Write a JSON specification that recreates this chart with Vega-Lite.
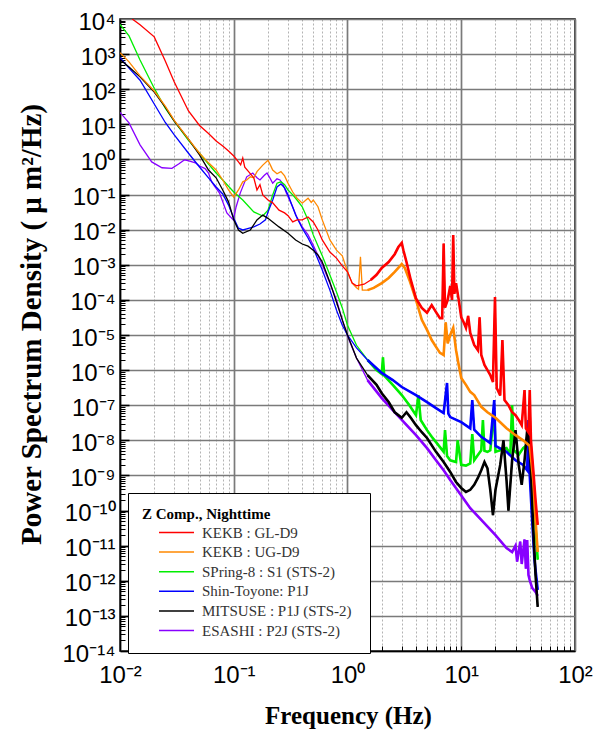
{
"$schema": "https://vega.github.io/schema/vega-lite/v6.json",
"width": 455, "height": 632,
"autosize": {"type": "none"},
"padding": {"left": 120, "top": 19, "right": 31, "bottom": 82},
"background": "white",
"config": {"view": {"stroke": "black", "strokeWidth": 1.5}, "font": "Liberation Sans"},
"data": {"values": [
{"site":"ESASHI : P2J (STS-2)","f":0.01,"P":22},{"site":"ESASHI : P2J (STS-2)","f":0.012,"P":11},{"site":"ESASHI : P2J (STS-2)","f":0.015,"P":2.6},{"site":"ESASHI : P2J (STS-2)","f":0.019,"P":0.85},{"site":"ESASHI : P2J (STS-2)","f":0.0234,"P":0.58},{"site":"ESASHI : P2J (STS-2)","f":0.0286,"P":0.56},{"site":"ESASHI : P2J (STS-2)","f":0.033,"P":0.75},{"site":"ESASHI : P2J (STS-2)","f":0.037,"P":0.98},{"site":"ESASHI : P2J (STS-2)","f":0.041,"P":0.9},{"site":"ESASHI : P2J (STS-2)","f":0.046,"P":0.8},{"site":"ESASHI : P2J (STS-2)","f":0.05,"P":0.65},{"site":"ESASHI : P2J (STS-2)","f":0.056,"P":0.55},{"site":"ESASHI : P2J (STS-2)","f":0.06,"P":0.41},{"site":"ESASHI : P2J (STS-2)","f":0.064,"P":0.23},{"site":"ESASHI : P2J (STS-2)","f":0.068,"P":0.17},{"site":"ESASHI : P2J (STS-2)","f":0.075,"P":0.11},{"site":"ESASHI : P2J (STS-2)","f":0.087,"P":0.03},{"site":"ESASHI : P2J (STS-2)","f":0.099,"P":0.019},{"site":"ESASHI : P2J (STS-2)","f":0.105,"P":0.045},{"site":"ESASHI : P2J (STS-2)","f":0.114,"P":0.11},{"site":"ESASHI : P2J (STS-2)","f":0.13,"P":0.32},{"site":"ESASHI : P2J (STS-2)","f":0.147,"P":0.41},{"site":"ESASHI : P2J (STS-2)","f":0.16,"P":0.3},{"site":"ESASHI : P2J (STS-2)","f":0.17,"P":0.26},{"site":"ESASHI : P2J (STS-2)","f":0.185,"P":0.35},{"site":"ESASHI : P2J (STS-2)","f":0.196,"P":0.41},{"site":"ESASHI : P2J (STS-2)","f":0.21,"P":0.28},{"site":"ESASHI : P2J (STS-2)","f":0.22,"P":0.21},{"site":"ESASHI : P2J (STS-2)","f":0.24,"P":0.28},{"site":"ESASHI : P2J (STS-2)","f":0.255,"P":0.26},{"site":"ESASHI : P2J (STS-2)","f":0.27,"P":0.2},{"site":"ESASHI : P2J (STS-2)","f":0.29,"P":0.11},{"site":"ESASHI : P2J (STS-2)","f":0.33,"P":0.044},{"site":"ESASHI : P2J (STS-2)","f":0.36,"P":0.022},{"site":"ESASHI : P2J (STS-2)","f":0.4,"P":0.012},{"site":"ESASHI : P2J (STS-2)","f":0.45,"P":0.0071},{"site":"ESASHI : P2J (STS-2)","f":0.5,"P":0.0036},{"site":"ESASHI : P2J (STS-2)","f":0.6,"P":0.001},{"site":"ESASHI : P2J (STS-2)","f":0.7,"P":3e-4},{"site":"ESASHI : P2J (STS-2)","f":0.8,"P":1e-4},{"site":"ESASHI : P2J (STS-2)","f":0.9,"P":2.7e-5},{"site":"ESASHI : P2J (STS-2)","f":1.0,"P":9.3e-6},{"site":"ESASHI : P2J (STS-2)","f":1.2,"P":2.2e-6},{"site":"ESASHI : P2J (STS-2)","f":1.5,"P":5.2e-7},{"site":"ESASHI : P2J (STS-2)","f":2,"P":1.6e-7},{"site":"ESASHI : P2J (STS-2)","f":2.5,"P":7.2e-8},{"site":"ESASHI : P2J (STS-2)","f":3,"P":3.8e-8},{"site":"ESASHI : P2J (STS-2)","f":4,"P":1.4e-8},{"site":"ESASHI : P2J (STS-2)","f":5,"P":6e-9},{"site":"ESASHI : P2J (STS-2)","f":6,"P":2.7e-9},{"site":"ESASHI : P2J (STS-2)","f":7,"P":1.4e-9},{"site":"ESASHI : P2J (STS-2)","f":8,"P":7.4e-10},{"site":"ESASHI : P2J (STS-2)","f":10,"P":2.7e-10},{"site":"ESASHI : P2J (STS-2)","f":12,"P":1.17e-10},{"site":"ESASHI : P2J (STS-2)","f":15,"P":5.4e-11},{"site":"ESASHI : P2J (STS-2)","f":20,"P":2e-11},{"site":"ESASHI : P2J (STS-2)","f":25,"P":8.5e-12},{"site":"ESASHI : P2J (STS-2)","f":28,"P":6.6e-12},{"site":"ESASHI : P2J (STS-2)","f":30,"P":1e-11},{"site":"ESASHI : P2J (STS-2)","f":31,"P":3.5e-12},{"site":"ESASHI : P2J (STS-2)","f":33,"P":1.3e-11},{"site":"ESASHI : P2J (STS-2)","f":34,"P":3e-12},{"site":"ESASHI : P2J (STS-2)","f":36,"P":1.5e-11},{"site":"ESASHI : P2J (STS-2)","f":37,"P":2.2e-12},{"site":"ESASHI : P2J (STS-2)","f":38,"P":1.45e-11},{"site":"ESASHI : P2J (STS-2)","f":39,"P":1.45e-12},{"site":"ESASHI : P2J (STS-2)","f":40,"P":1.05e-12},{"site":"ESASHI : P2J (STS-2)","f":42,"P":6.3e-13},{"site":"ESASHI : P2J (STS-2)","f":45,"P":4.8e-13},{"site":"ESASHI : P2J (STS-2)","f":47,"P":3.7e-13},
{"site":"SPring-8 : S1 (STS-2)","f":0.01,"P":7000},{"site":"SPring-8 : S1 (STS-2)","f":0.012,"P":3300},{"site":"SPring-8 : S1 (STS-2)","f":0.015,"P":680},{"site":"SPring-8 : S1 (STS-2)","f":0.02,"P":107},{"site":"SPring-8 : S1 (STS-2)","f":0.025,"P":29},{"site":"SPring-8 : S1 (STS-2)","f":0.03,"P":12.4},{"site":"SPring-8 : S1 (STS-2)","f":0.04,"P":3.5},{"site":"SPring-8 : S1 (STS-2)","f":0.05,"P":1.5},{"site":"SPring-8 : S1 (STS-2)","f":0.06,"P":0.74},{"site":"SPring-8 : S1 (STS-2)","f":0.07,"P":0.41},{"site":"SPring-8 : S1 (STS-2)","f":0.08,"P":0.26},{"site":"SPring-8 : S1 (STS-2)","f":0.1,"P":0.118},{"site":"SPring-8 : S1 (STS-2)","f":0.12,"P":0.07},{"site":"SPring-8 : S1 (STS-2)","f":0.15,"P":0.032},{"site":"SPring-8 : S1 (STS-2)","f":0.18,"P":0.0245},{"site":"SPring-8 : S1 (STS-2)","f":0.2,"P":0.036},{"site":"SPring-8 : S1 (STS-2)","f":0.22,"P":0.098},{"site":"SPring-8 : S1 (STS-2)","f":0.24,"P":0.21},{"site":"SPring-8 : S1 (STS-2)","f":0.26,"P":0.23},{"site":"SPring-8 : S1 (STS-2)","f":0.28,"P":0.19},{"site":"SPring-8 : S1 (STS-2)","f":0.3,"P":0.135},{"site":"SPring-8 : S1 (STS-2)","f":0.33,"P":0.098},{"site":"SPring-8 : S1 (STS-2)","f":0.36,"P":0.07},{"site":"SPring-8 : S1 (STS-2)","f":0.4,"P":0.045},{"site":"SPring-8 : S1 (STS-2)","f":0.45,"P":0.019},{"site":"SPring-8 : S1 (STS-2)","f":0.5,"P":0.0071},{"site":"SPring-8 : S1 (STS-2)","f":0.6,"P":0.0018},{"site":"SPring-8 : S1 (STS-2)","f":0.7,"P":5.1e-4},{"site":"SPring-8 : S1 (STS-2)","f":0.8,"P":1.67e-4},{"site":"SPring-8 : S1 (STS-2)","f":0.9,"P":5.9e-5},{"site":"SPring-8 : S1 (STS-2)","f":1.0,"P":1.9e-5},{"site":"SPring-8 : S1 (STS-2)","f":1.2,"P":5.1e-6},{"site":"SPring-8 : S1 (STS-2)","f":1.5,"P":1.95e-6},{"site":"SPring-8 : S1 (STS-2)","f":1.8,"P":1e-6},{"site":"SPring-8 : S1 (STS-2)","f":2.0,"P":7.7e-7},{"site":"SPring-8 : S1 (STS-2)","f":2.05,"P":2.3e-6},{"site":"SPring-8 : S1 (STS-2)","f":2.1,"P":7e-7},{"site":"SPring-8 : S1 (STS-2)","f":2.5,"P":3.8e-7},{"site":"SPring-8 : S1 (STS-2)","f":3,"P":1.95e-7},{"site":"SPring-8 : S1 (STS-2)","f":3.5,"P":1e-7},{"site":"SPring-8 : S1 (STS-2)","f":4,"P":5.2e-8},{"site":"SPring-8 : S1 (STS-2)","f":4.2,"P":1.95e-7},{"site":"SPring-8 : S1 (STS-2)","f":4.4,"P":3.8e-8},{"site":"SPring-8 : S1 (STS-2)","f":5,"P":1.95e-8},{"site":"SPring-8 : S1 (STS-2)","f":5.5,"P":1.26e-8},{"site":"SPring-8 : S1 (STS-2)","f":6,"P":8.9e-9},{"site":"SPring-8 : S1 (STS-2)","f":6.5,"P":6.4e-9},{"site":"SPring-8 : S1 (STS-2)","f":7,"P":4.7e-9},{"site":"SPring-8 : S1 (STS-2)","f":7.2,"P":1.95e-8},{"site":"SPring-8 : S1 (STS-2)","f":7.5,"P":3.6e-9},{"site":"SPring-8 : S1 (STS-2)","f":8,"P":2.7e-9},{"site":"SPring-8 : S1 (STS-2)","f":9,"P":2.4e-9},{"site":"SPring-8 : S1 (STS-2)","f":9.3,"P":1e-8},{"site":"SPring-8 : S1 (STS-2)","f":10,"P":2e-9},{"site":"SPring-8 : S1 (STS-2)","f":11,"P":1.9e-9},{"site":"SPring-8 : S1 (STS-2)","f":12,"P":2.2e-9},{"site":"SPring-8 : S1 (STS-2)","f":12.5,"P":1.5e-8},{"site":"SPring-8 : S1 (STS-2)","f":13,"P":2.7e-9},{"site":"SPring-8 : S1 (STS-2)","f":14,"P":3.8e-9},{"site":"SPring-8 : S1 (STS-2)","f":15,"P":5.2e-9},{"site":"SPring-8 : S1 (STS-2)","f":15.5,"P":3.8e-8},{"site":"SPring-8 : S1 (STS-2)","f":16,"P":5e-9},{"site":"SPring-8 : S1 (STS-2)","f":17,"P":4.7e-9},{"site":"SPring-8 : S1 (STS-2)","f":18,"P":5.2e-9},{"site":"SPring-8 : S1 (STS-2)","f":19.5,"P":7.2e-8},{"site":"SPring-8 : S1 (STS-2)","f":20,"P":4.7e-9},{"site":"SPring-8 : S1 (STS-2)","f":22,"P":5.2e-9},{"site":"SPring-8 : S1 (STS-2)","f":25,"P":6e-9},{"site":"SPring-8 : S1 (STS-2)","f":27,"P":4e-9},{"site":"SPring-8 : S1 (STS-2)","f":28,"P":1e-7},{"site":"SPring-8 : S1 (STS-2)","f":29,"P":5.2e-9},{"site":"SPring-8 : S1 (STS-2)","f":32,"P":3.9e-9},{"site":"SPring-8 : S1 (STS-2)","f":35,"P":6e-9},{"site":"SPring-8 : S1 (STS-2)","f":38,"P":7.4e-9},{"site":"SPring-8 : S1 (STS-2)","f":40,"P":6e-9},{"site":"SPring-8 : S1 (STS-2)","f":42,"P":1.4e-9},{"site":"SPring-8 : S1 (STS-2)","f":44,"P":1.05e-10},{"site":"SPring-8 : S1 (STS-2)","f":47,"P":4e-12},
{"site":"Shin-Toyone: P1J","f":0.01,"P":800},{"site":"Shin-Toyone: P1J","f":0.012,"P":400},{"site":"Shin-Toyone: P1J","f":0.015,"P":180},{"site":"Shin-Toyone: P1J","f":0.02,"P":38},{"site":"Shin-Toyone: P1J","f":0.025,"P":11.3},{"site":"Shin-Toyone: P1J","f":0.03,"P":5},{"site":"Shin-Toyone: P1J","f":0.04,"P":1.5},{"site":"Shin-Toyone: P1J","f":0.05,"P":0.61},{"site":"Shin-Toyone: P1J","f":0.06,"P":0.3},{"site":"Shin-Toyone: P1J","f":0.07,"P":0.164},{"site":"Shin-Toyone: P1J","f":0.08,"P":0.104},{"site":"Shin-Toyone: P1J","f":0.09,"P":0.05},{"site":"Shin-Toyone: P1J","f":0.1,"P":0.021},{"site":"Shin-Toyone: P1J","f":0.11,"P":0.011},{"site":"Shin-Toyone: P1J","f":0.12,"P":0.0098},{"site":"Shin-Toyone: P1J","f":0.13,"P":0.0105},{"site":"Shin-Toyone: P1J","f":0.15,"P":0.012},{"site":"Shin-Toyone: P1J","f":0.17,"P":0.0145},{"site":"Shin-Toyone: P1J","f":0.19,"P":0.019},{"site":"Shin-Toyone: P1J","f":0.2,"P":0.032},{"site":"Shin-Toyone: P1J","f":0.22,"P":0.07},{"site":"Shin-Toyone: P1J","f":0.24,"P":0.164},{"site":"Shin-Toyone: P1J","f":0.26,"P":0.2},{"site":"Shin-Toyone: P1J","f":0.28,"P":0.155},{"site":"Shin-Toyone: P1J","f":0.3,"P":0.098},{"site":"Shin-Toyone: P1J","f":0.35,"P":0.026},{"site":"Shin-Toyone: P1J","f":0.4,"P":0.011},{"site":"Shin-Toyone: P1J","f":0.45,"P":0.0058},{"site":"Shin-Toyone: P1J","f":0.5,"P":0.003},{"site":"Shin-Toyone: P1J","f":0.6,"P":7.1e-4},{"site":"Shin-Toyone: P1J","f":0.7,"P":1.9e-4},{"site":"Shin-Toyone: P1J","f":0.8,"P":5.1e-5},{"site":"Shin-Toyone: P1J","f":0.9,"P":1.9e-5},{"site":"Shin-Toyone: P1J","f":1.0,"P":1e-5},{"site":"Shin-Toyone: P1J","f":1.2,"P":4.3e-6},{"site":"Shin-Toyone: P1J","f":1.5,"P":1.95e-6},{"site":"Shin-Toyone: P1J","f":2,"P":8.3e-7},{"site":"Shin-Toyone: P1J","f":2.5,"P":5.2e-7},{"site":"Shin-Toyone: P1J","f":3,"P":3.3e-7},{"site":"Shin-Toyone: P1J","f":4,"P":1.95e-7},{"site":"Shin-Toyone: P1J","f":5,"P":1.23e-7},{"site":"Shin-Toyone: P1J","f":6,"P":8.3e-8},{"site":"Shin-Toyone: P1J","f":7,"P":6e-8},{"site":"Shin-Toyone: P1J","f":7.5,"P":4.3e-7},{"site":"Shin-Toyone: P1J","f":7.7,"P":5.8e-8},{"site":"Shin-Toyone: P1J","f":8,"P":4.6e-8},{"site":"Shin-Toyone: P1J","f":10,"P":3.3e-8},{"site":"Shin-Toyone: P1J","f":12,"P":2.2e-8},{"site":"Shin-Toyone: P1J","f":12.5,"P":1.4e-7},{"site":"Shin-Toyone: P1J","f":13,"P":2e-8},{"site":"Shin-Toyone: P1J","f":15,"P":1.26e-8},{"site":"Shin-Toyone: P1J","f":18,"P":8.3e-9},{"site":"Shin-Toyone: P1J","f":19.5,"P":1.4e-7},{"site":"Shin-Toyone: P1J","f":20,"P":6.9e-9},{"site":"Shin-Toyone: P1J","f":25,"P":4.7e-9},{"site":"Shin-Toyone: P1J","f":30,"P":2.7e-9},{"site":"Shin-Toyone: P1J","f":35,"P":2e-9},{"site":"Shin-Toyone: P1J","f":38,"P":1.4e-9},{"site":"Shin-Toyone: P1J","f":39,"P":3.8e-8},{"site":"Shin-Toyone: P1J","f":40,"P":1e-9},{"site":"Shin-Toyone: P1J","f":42,"P":5.4e-11},{"site":"Shin-Toyone: P1J","f":44,"P":4e-12},{"site":"Shin-Toyone: P1J","f":47,"P":5.5e-13},
{"site":"MITSUSE  : P1J (STS-2)","f":0.01,"P":700},{"site":"MITSUSE  : P1J (STS-2)","f":0.012,"P":430},{"site":"MITSUSE  : P1J (STS-2)","f":0.015,"P":225},{"site":"MITSUSE  : P1J (STS-2)","f":0.02,"P":83},{"site":"MITSUSE  : P1J (STS-2)","f":0.025,"P":31},{"site":"MITSUSE  : P1J (STS-2)","f":0.03,"P":12.4},{"site":"MITSUSE  : P1J (STS-2)","f":0.04,"P":3.8},{"site":"MITSUSE  : P1J (STS-2)","f":0.05,"P":1.35},{"site":"MITSUSE  : P1J (STS-2)","f":0.06,"P":0.5},{"site":"MITSUSE  : P1J (STS-2)","f":0.07,"P":0.3},{"site":"MITSUSE  : P1J (STS-2)","f":0.08,"P":0.135},{"site":"MITSUSE  : P1J (STS-2)","f":0.09,"P":0.062},{"site":"MITSUSE  : P1J (STS-2)","f":0.1,"P":0.019},{"site":"MITSUSE  : P1J (STS-2)","f":0.11,"P":0.0098},{"site":"MITSUSE  : P1J (STS-2)","f":0.12,"P":0.0079},{"site":"MITSUSE  : P1J (STS-2)","f":0.14,"P":0.0098},{"site":"MITSUSE  : P1J (STS-2)","f":0.16,"P":0.019},{"site":"MITSUSE  : P1J (STS-2)","f":0.18,"P":0.026},{"site":"MITSUSE  : P1J (STS-2)","f":0.2,"P":0.021},{"site":"MITSUSE  : P1J (STS-2)","f":0.22,"P":0.0166},{"site":"MITSUSE  : P1J (STS-2)","f":0.25,"P":0.012},{"site":"MITSUSE  : P1J (STS-2)","f":0.3,"P":0.0079},{"site":"MITSUSE  : P1J (STS-2)","f":0.35,"P":0.0051},{"site":"MITSUSE  : P1J (STS-2)","f":0.4,"P":0.0039},{"site":"MITSUSE  : P1J (STS-2)","f":0.45,"P":0.0034},{"site":"MITSUSE  : P1J (STS-2)","f":0.5,"P":0.0026},{"site":"MITSUSE  : P1J (STS-2)","f":0.55,"P":0.0019},{"site":"MITSUSE  : P1J (STS-2)","f":0.6,"P":0.0012},{"site":"MITSUSE  : P1J (STS-2)","f":0.7,"P":3.2e-4},{"site":"MITSUSE  : P1J (STS-2)","f":0.8,"P":8.7e-5},{"site":"MITSUSE  : P1J (STS-2)","f":0.9,"P":2.7e-5},{"site":"MITSUSE  : P1J (STS-2)","f":1.0,"P":1e-5},{"site":"MITSUSE  : P1J (STS-2)","f":1.2,"P":2.2e-6},{"site":"MITSUSE  : P1J (STS-2)","f":1.5,"P":7.2e-7},{"site":"MITSUSE  : P1J (STS-2)","f":1.8,"P":3.8e-7},{"site":"MITSUSE  : P1J (STS-2)","f":2,"P":2.2e-7},{"site":"MITSUSE  : P1J (STS-2)","f":2.3,"P":1.23e-7},{"site":"MITSUSE  : P1J (STS-2)","f":2.6,"P":6.3e-8},{"site":"MITSUSE  : P1J (STS-2)","f":3,"P":4.4e-8},{"site":"MITSUSE  : P1J (STS-2)","f":3.3,"P":6.3e-8},{"site":"MITSUSE  : P1J (STS-2)","f":3.6,"P":4.4e-8},{"site":"MITSUSE  : P1J (STS-2)","f":4,"P":2.7e-8},{"site":"MITSUSE  : P1J (STS-2)","f":4.5,"P":1.7e-8},{"site":"MITSUSE  : P1J (STS-2)","f":5,"P":1.17e-8},{"site":"MITSUSE  : P1J (STS-2)","f":6,"P":4.7e-9},{"site":"MITSUSE  : P1J (STS-2)","f":7,"P":2.4e-9},{"site":"MITSUSE  : P1J (STS-2)","f":8,"P":1.26e-9},{"site":"MITSUSE  : P1J (STS-2)","f":9,"P":6.5e-10},{"site":"MITSUSE  : P1J (STS-2)","f":10,"P":4.4e-10},{"site":"MITSUSE  : P1J (STS-2)","f":11,"P":3.4e-10},{"site":"MITSUSE  : P1J (STS-2)","f":12,"P":3.9e-10},{"site":"MITSUSE  : P1J (STS-2)","f":13,"P":5.4e-10},{"site":"MITSUSE  : P1J (STS-2)","f":14,"P":8.5e-10},{"site":"MITSUSE  : P1J (STS-2)","f":15,"P":1.4e-9},{"site":"MITSUSE  : P1J (STS-2)","f":16,"P":2.4e-9},{"site":"MITSUSE  : P1J (STS-2)","f":17,"P":1.6e-9},{"site":"MITSUSE  : P1J (STS-2)","f":18,"P":3.9e-10},{"site":"MITSUSE  : P1J (STS-2)","f":19,"P":7.4e-11},{"site":"MITSUSE  : P1J (STS-2)","f":20,"P":3.9e-10},{"site":"MITSUSE  : P1J (STS-2)","f":22,"P":2e-9},{"site":"MITSUSE  : P1J (STS-2)","f":23.5,"P":1e-8},{"site":"MITSUSE  : P1J (STS-2)","f":25,"P":7.4e-10},{"site":"MITSUSE  : P1J (STS-2)","f":26,"P":1e-10},{"site":"MITSUSE  : P1J (STS-2)","f":28,"P":2.7e-9},{"site":"MITSUSE  : P1J (STS-2)","f":30,"P":1.95e-8},{"site":"MITSUSE  : P1J (STS-2)","f":32,"P":2e-9},{"site":"MITSUSE  : P1J (STS-2)","f":34,"P":5.4e-10},{"site":"MITSUSE  : P1J (STS-2)","f":36,"P":2.7e-9},{"site":"MITSUSE  : P1J (STS-2)","f":38,"P":1.95e-8},{"site":"MITSUSE  : P1J (STS-2)","f":39.5,"P":1e-8},{"site":"MITSUSE  : P1J (STS-2)","f":41,"P":1.4e-9},{"site":"MITSUSE  : P1J (STS-2)","f":43,"P":2.8e-11},{"site":"MITSUSE  : P1J (STS-2)","f":45,"P":1.45e-12},{"site":"MITSUSE  : P1J (STS-2)","f":47,"P":1.8e-13},
{"site":"KEKB : UG-D9","f":0.01,"P":1100},{"site":"KEKB : UG-D9","f":0.012,"P":600},{"site":"KEKB : UG-D9","f":0.015,"P":240},{"site":"KEKB : UG-D9","f":0.02,"P":89},{"site":"KEKB : UG-D9","f":0.025,"P":33},{"site":"KEKB : UG-D9","f":0.03,"P":13},{"site":"KEKB : UG-D9","f":0.04,"P":3.8},{"site":"KEKB : UG-D9","f":0.05,"P":1.5},{"site":"KEKB : UG-D9","f":0.06,"P":0.8},{"site":"KEKB : UG-D9","f":0.07,"P":0.5},{"site":"KEKB : UG-D9","f":0.08,"P":0.26},{"site":"KEKB : UG-D9","f":0.09,"P":0.135},{"site":"KEKB : UG-D9","f":0.1,"P":0.085},{"site":"KEKB : UG-D9","f":0.11,"P":0.135},{"site":"KEKB : UG-D9","f":0.12,"P":0.23},{"site":"KEKB : UG-D9","f":0.13,"P":0.26},{"site":"KEKB : UG-D9","f":0.14,"P":0.32},{"site":"KEKB : UG-D9","f":0.15,"P":0.3},{"site":"KEKB : UG-D9","f":0.16,"P":0.45},{"site":"KEKB : UG-D9","f":0.18,"P":0.69},{"site":"KEKB : UG-D9","f":0.2,"P":0.95},{"site":"KEKB : UG-D9","f":0.21,"P":0.69},{"site":"KEKB : UG-D9","f":0.22,"P":0.5},{"site":"KEKB : UG-D9","f":0.24,"P":0.39},{"site":"KEKB : UG-D9","f":0.26,"P":0.45},{"site":"KEKB : UG-D9","f":0.28,"P":0.34},{"site":"KEKB : UG-D9","f":0.3,"P":0.21},{"site":"KEKB : UG-D9","f":0.33,"P":0.118},{"site":"KEKB : UG-D9","f":0.36,"P":0.079},{"site":"KEKB : UG-D9","f":0.4,"P":0.057},{"site":"KEKB : UG-D9","f":0.45,"P":0.079},{"site":"KEKB : UG-D9","f":0.48,"P":0.06},{"site":"KEKB : UG-D9","f":0.5,"P":0.07},{"site":"KEKB : UG-D9","f":0.55,"P":0.045},{"site":"KEKB : UG-D9","f":0.6,"P":0.019},{"site":"KEKB : UG-D9","f":0.7,"P":0.0051},{"site":"KEKB : UG-D9","f":0.8,"P":0.0026},{"site":"KEKB : UG-D9","f":0.9,"P":0.0018},{"site":"KEKB : UG-D9","f":1.0,"P":6.3e-4},{"site":"KEKB : UG-D9","f":1.1,"P":3e-4},{"site":"KEKB : UG-D9","f":1.2,"P":2.2e-4},{"site":"KEKB : UG-D9","f":1.25,"P":2e-4},{"site":"KEKB : UG-D9","f":1.3,"P":1.7e-3},{"site":"KEKB : UG-D9","f":1.35,"P":1.9e-4},{"site":"KEKB : UG-D9","f":1.5,"P":1.9e-4},{"site":"KEKB : UG-D9","f":1.7,"P":2.2e-4},{"site":"KEKB : UG-D9","f":2.0,"P":3e-4},{"site":"KEKB : UG-D9","f":2.3,"P":4.2e-4},{"site":"KEKB : UG-D9","f":2.6,"P":6.3e-4},{"site":"KEKB : UG-D9","f":3.0,"P":1.05e-3},{"site":"KEKB : UG-D9","f":3.2,"P":8e-4},{"site":"KEKB : UG-D9","f":3.5,"P":3.7e-4},{"site":"KEKB : UG-D9","f":4,"P":1e-4},{"site":"KEKB : UG-D9","f":4.5,"P":2.7e-5},{"site":"KEKB : UG-D9","f":5,"P":1.4e-5},{"site":"KEKB : UG-D9","f":5.5,"P":7.2e-6},{"site":"KEKB : UG-D9","f":6,"P":4.6e-6},{"site":"KEKB : UG-D9","f":6.5,"P":3.1e-6},{"site":"KEKB : UG-D9","f":7,"P":2.7e-6},{"site":"KEKB : UG-D9","f":7.3,"P":2.3e-5},{"site":"KEKB : UG-D9","f":7.6,"P":5.8e-6},{"site":"KEKB : UG-D9","f":8,"P":1e-5},{"site":"KEKB : UG-D9","f":8.5,"P":1.6e-5},{"site":"KEKB : UG-D9","f":9,"P":3.7e-6},{"site":"KEKB : UG-D9","f":9.5,"P":1.4e-6},{"site":"KEKB : UG-D9","f":10,"P":6e-7},{"site":"KEKB : UG-D9","f":11,"P":3.8e-7},{"site":"KEKB : UG-D9","f":12,"P":2.4e-7},{"site":"KEKB : UG-D9","f":13,"P":1.95e-7},{"site":"KEKB : UG-D9","f":15,"P":9e-8},{"site":"KEKB : UG-D9","f":17,"P":6.3e-8},{"site":"KEKB : UG-D9","f":20,"P":4.4e-8},{"site":"KEKB : UG-D9","f":25,"P":2.2e-8},{"site":"KEKB : UG-D9","f":30,"P":1.4e-8},{"site":"KEKB : UG-D9","f":35,"P":1e-8},{"site":"KEKB : UG-D9","f":40,"P":6.9e-9},{"site":"KEKB : UG-D9","f":43,"P":7.4e-10},{"site":"KEKB : UG-D9","f":45,"P":5.4e-11},{"site":"KEKB : UG-D9","f":47,"P":6.6e-12},
{"site":"KEKB : GL-D9","f":0.0128,"P":10000},{"site":"KEKB : GL-D9","f":0.015,"P":6900},{"site":"KEKB : GL-D9","f":0.02,"P":3100},{"site":"KEKB : GL-D9","f":0.025,"P":640},{"site":"KEKB : GL-D9","f":0.03,"P":161},{"site":"KEKB : GL-D9","f":0.04,"P":24},{"site":"KEKB : GL-D9","f":0.05,"P":9.3},{"site":"KEKB : GL-D9","f":0.06,"P":5.5},{"site":"KEKB : GL-D9","f":0.07,"P":3.35},{"site":"KEKB : GL-D9","f":0.08,"P":2.4},{"site":"KEKB : GL-D9","f":0.09,"P":1.74},{"site":"KEKB : GL-D9","f":0.1,"P":1.25},{"site":"KEKB : GL-D9","f":0.11,"P":0.85},{"site":"KEKB : GL-D9","f":0.115,"P":0.7},{"site":"KEKB : GL-D9","f":0.12,"P":1.1},{"site":"KEKB : GL-D9","f":0.125,"P":0.6},{"site":"KEKB : GL-D9","f":0.135,"P":0.45},{"site":"KEKB : GL-D9","f":0.15,"P":0.3},{"site":"KEKB : GL-D9","f":0.16,"P":0.135},{"site":"KEKB : GL-D9","f":0.17,"P":0.19},{"site":"KEKB : GL-D9","f":0.18,"P":0.098},{"site":"KEKB : GL-D9","f":0.2,"P":0.07},{"site":"KEKB : GL-D9","f":0.22,"P":0.058},{"site":"KEKB : GL-D9","f":0.25,"P":0.036},{"site":"KEKB : GL-D9","f":0.28,"P":0.03},{"site":"KEKB : GL-D9","f":0.3,"P":0.025},{"site":"KEKB : GL-D9","f":0.33,"P":0.0166},{"site":"KEKB : GL-D9","f":0.36,"P":0.019},{"site":"KEKB : GL-D9","f":0.4,"P":0.019},{"site":"KEKB : GL-D9","f":0.45,"P":0.023},{"site":"KEKB : GL-D9","f":0.5,"P":0.0166},{"site":"KEKB : GL-D9","f":0.55,"P":0.0098},{"site":"KEKB : GL-D9","f":0.6,"P":0.0051},{"site":"KEKB : GL-D9","f":0.7,"P":0.0023},{"site":"KEKB : GL-D9","f":0.8,"P":0.00155},{"site":"KEKB : GL-D9","f":0.9,"P":9.3e-4},{"site":"KEKB : GL-D9","f":1.0,"P":6.3e-4},{"site":"KEKB : GL-D9","f":1.1,"P":3e-4},{"site":"KEKB : GL-D9","f":1.2,"P":2.5e-4},{"site":"KEKB : GL-D9","f":1.4,"P":2.8e-4},{"site":"KEKB : GL-D9","f":1.6,"P":3.7e-4},{"site":"KEKB : GL-D9","f":1.8,"P":5.2e-4},{"site":"KEKB : GL-D9","f":2.0,"P":8.1e-4},{"site":"KEKB : GL-D9","f":2.3,"P":1.2e-3},{"site":"KEKB : GL-D9","f":2.6,"P":2e-3},{"site":"KEKB : GL-D9","f":2.8,"P":3.2e-3},{"site":"KEKB : GL-D9","f":3.0,"P":4.2e-3},{"site":"KEKB : GL-D9","f":3.1,"P":2.6e-3},{"site":"KEKB : GL-D9","f":3.3,"P":1.2e-3},{"site":"KEKB : GL-D9","f":3.6,"P":3.7e-4},{"site":"KEKB : GL-D9","f":4.0,"P":1.1e-4},{"site":"KEKB : GL-D9","f":4.5,"P":5.9e-5},{"site":"KEKB : GL-D9","f":5.0,"P":4.3e-5},{"site":"KEKB : GL-D9","f":5.5,"P":7.1e-5},{"site":"KEKB : GL-D9","f":6.0,"P":4.5e-5},{"site":"KEKB : GL-D9","f":6.5,"P":3e-5},{"site":"KEKB : GL-D9","f":6.8,"P":3e-5},{"site":"KEKB : GL-D9","f":7.0,"P":4e-3},{"site":"KEKB : GL-D9","f":7.2,"P":6e-5},{"site":"KEKB : GL-D9","f":7.6,"P":1e-4},{"site":"KEKB : GL-D9","f":8.0,"P":2.5e-4},{"site":"KEKB : GL-D9","f":8.3,"P":1e-4},{"site":"KEKB : GL-D9","f":8.5,"P":7e-3},{"site":"KEKB : GL-D9","f":8.7,"P":1.5e-4},{"site":"KEKB : GL-D9","f":9.0,"P":3e-4},{"site":"KEKB : GL-D9","f":9.5,"P":1e-4},{"site":"KEKB : GL-D9","f":10,"P":3.2e-5},{"site":"KEKB : GL-D9","f":10.5,"P":2.3e-5},{"site":"KEKB : GL-D9","f":11,"P":1.6e-5},{"site":"KEKB : GL-D9","f":11.5,"P":3.5e-5},{"site":"KEKB : GL-D9","f":12,"P":1.15e-5},{"site":"KEKB : GL-D9","f":13,"P":5.2e-6},{"site":"KEKB : GL-D9","f":14,"P":3.7e-6},{"site":"KEKB : GL-D9","f":14.5,"P":3.2e-5},{"site":"KEKB : GL-D9","f":15,"P":2.7e-6},{"site":"KEKB : GL-D9","f":16,"P":1.4e-6},{"site":"KEKB : GL-D9","f":17,"P":1e-6},{"site":"KEKB : GL-D9","f":18,"P":7.2e-7},{"site":"KEKB : GL-D9","f":19,"P":4.6e-7},{"site":"KEKB : GL-D9","f":19.8,"P":1.2e-4},{"site":"KEKB : GL-D9","f":20.5,"P":3.1e-7},{"site":"KEKB : GL-D9","f":22,"P":1.9e-7},{"site":"KEKB : GL-D9","f":23,"P":7.2e-6},{"site":"KEKB : GL-D9","f":24,"P":1.4e-7},{"site":"KEKB : GL-D9","f":26,"P":1e-7},{"site":"KEKB : GL-D9","f":28,"P":6.3e-8},{"site":"KEKB : GL-D9","f":30,"P":5.2e-8},{"site":"KEKB : GL-D9","f":32,"P":3.8e-8},{"site":"KEKB : GL-D9","f":34,"P":2.7e-8},{"site":"KEKB : GL-D9","f":36,"P":2.7e-7},{"site":"KEKB : GL-D9","f":37,"P":2.2e-8},{"site":"KEKB : GL-D9","f":39,"P":1.7e-8},{"site":"KEKB : GL-D9","f":40,"P":2.7e-7},{"site":"KEKB : GL-D9","f":41,"P":1e-8},{"site":"KEKB : GL-D9","f":43,"P":1.4e-9},{"site":"KEKB : GL-D9","f":45,"P":2e-10},{"site":"KEKB : GL-D9","f":47,"P":3.9e-11}
]},
"resolve": {"axis": {"x": "independent", "y": "independent"}},
"layer": [
{
"mark": {"type": "line", "strokeWidth": 1.3, "clip": true},
"encoding": {
"x": {"field": "f", "type": "quantitative", "scale": {"type": "log", "domain": [0.01, 100], "nice": false},
 "axis": {"orient": "bottom",
  "values": [0.01,0.02,0.03,0.04,0.05,0.06,0.07,0.08,0.09,0.1,0.2,0.3,0.4,0.5,0.6,0.7,0.8,0.9,1,2,3,4,5,6,7,8,9,10,20,30,40,50,60,70,80,90,100],
  "labelExpr": "datum.value == 0.01 ? '10⁻²' : datum.value == 0.1 ? '10⁻¹' : datum.value == 1 ? '10⁰' : datum.value == 10 ? '10¹' : datum.value == 100 ? '10²' : ''",
  "labelFont": "Liberation Sans", "labelFontSize": 24, "labelColor": "black", "labelPadding": 12, "labelOverlap": false, "labelFlush": false, "labelBound": false,
  "ticks": false, "domain": true, "domainColor": "black", "domainWidth": 1.5,
  "grid": true,
  "gridColor": {"condition": {"test": "datum.value == 0.01 || datum.value == 0.1 || datum.value == 1 || datum.value == 10 || datum.value == 100", "value": "#7a7a7a"}, "value": "#a0a0a0"},
  "gridWidth": {"condition": {"test": "datum.value == 0.01 || datum.value == 0.1 || datum.value == 1 || datum.value == 10 || datum.value == 100", "value": 1.7}, "value": 0.8},
  "gridDash": {"condition": {"test": "datum.value == 0.01 || datum.value == 0.1 || datum.value == 1 || datum.value == 10 || datum.value == 100", "value": []}, "value": [2, 2]},
  "title": "Frequency (Hz)", "titleFont": "Liberation Serif", "titleFontSize": 25, "titleFontWeight": "bold", "titleColor": "black",
  "titleX": 228, "titleY": 72, "titleBaseline": "alphabetic", "titleAlign": "center", "titleAnchor": null}},
"y": {"field": "P", "type": "quantitative", "scale": {"type": "log", "domain": [1e-14, 10000], "nice": false},
 "axis": {"orient": "left",
  "values": [1e-14,1e-13,1e-12,1e-11,1e-10,1e-9,1e-8,1e-7,1e-6,1e-5,1e-4,1e-3,1e-2,1e-1,1,10,100,1000,10000],
  "labelExpr": "'10' + ['⁻¹⁴','⁻¹³','⁻¹²','⁻¹¹','⁻¹⁰','⁻⁹','⁻⁸','⁻⁷','⁻⁶','⁻⁵','⁻⁴','⁻³','⁻²','⁻¹','⁰','¹','²','³','⁴'][round(log(datum.value)/LN10)+14]",
  "labelFont": "Liberation Sans", "labelFontSize": 24, "labelColor": "black", "labelPadding": 5, "labelOffset": 3, "labelOverlap": false, "labelFlush": false, "labelBound": false,
  "ticks": false, "domain": true, "domainColor": "black", "domainWidth": 1.5,
  "grid": true, "gridColor": "#7a7a7a", "gridWidth": 1.7,
  "title": "Power Spectrum Density ( μ m²/Hz)", "titleFont": "Liberation Serif", "titleFontSize": 29, "titleFontWeight": "bold", "titleColor": "black",
  "titleX": -80, "titleY": 305, "titleAngle": -90, "titleBaseline": "alphabetic", "titleAlign": "center", "titleAnchor": null}},
"color": {"field": "site", "type": "nominal",
 "scale": {"domain": ["KEKB : GL-D9","KEKB : UG-D9","SPring-8 : S1 (STS-2)","Shin-Toyone: P1J","MITSUSE  : P1J (STS-2)","ESASHI : P2J (STS-2)"],
  "range": ["#ff0000","#ff8800","#00ee00","#0000ff","#000000","#8800ff"]},
 "legend": {"orient": "none", "legendX": 8, "legendY": 474, "title": "Z Comp., Nighttime",
  "titleFont": "Liberation Serif", "titleFontSize": 15, "titleFontWeight": "bold", "titleColor": "black", "titlePadding": 3,
  "labelFont": "Liberation Serif", "labelFontSize": 15, "labelColor": "#333333", "labelLimit": 300, "labelOffset": 7,
  "symbolType": "stroke", "symbolSize": 1225, "symbolStrokeWidth": 1.5, "symbolOffset": 16, "clipHeight": 15, "rowPadding": 3.6,
  "padding": 14, "strokeColor": "black", "fillColor": "white"}}
}
},
{
"transform": [{"filter": "datum.f >= 1.5"}],
"mark": {"type": "line", "strokeWidth": 2.6, "clip": true},
"encoding": {
"x": {"field": "f", "type": "quantitative", "scale": {"type": "log", "domain": [0.01, 100], "nice": false},
 "axis": {"orient": "top", "offset": -632,
  "values": [0.02,0.03,0.04,0.05,0.06,0.07,0.08,0.09,0.1,0.2,0.3,0.4,0.5,0.6,0.7,0.8,0.9,1,2,3,4,5,6,7,8,9,10,20,30,40,50,60,70,80,90],
  "ticks": true, "tickSize": 5, "tickColor": "black", "tickWidth": 1, "labels": false, "domain": false, "grid": false, "title": null}},
"y": {"field": "P", "type": "quantitative", "scale": {"type": "log", "domain": [1e-14, 10000], "nice": false},
 "axis": {"orient": "right", "offset": -455,
  "values": [1e-13,1e-12,1e-11,1e-10,1e-9,1e-8,1e-7,1e-6,1e-5,1e-4,1e-3,1e-2,1e-1,1,10,100,1000],
  "ticks": true, "tickSize": 9, "tickColor": "black", "tickWidth": 1.6, "labels": false, "domain": false, "grid": false, "title": null}},
"color": {"field": "site", "type": "nominal", "legend": null}
}
},
{
"mark": {"type": "line", "opacity": 0},
"encoding": {
"x": {"field": "f", "type": "quantitative", "scale": {"type": "log", "domain": [0.01, 100], "nice": false}, "axis": null},
"y": {"field": "P", "type": "quantitative", "scale": {"type": "log", "domain": [1e-14, 10000], "nice": false},
 "axis": {"orient": "right", "offset": -455,
  "values": [2e-14,3e-14,4e-14,5e-14,6e-14,7e-14,8e-14,9e-14,2e-13,3e-13,4e-13,5e-13,6e-13,7e-13,8e-13,9e-13,2e-12,3e-12,4e-12,5e-12,6e-12,7e-12,8e-12,9e-12,2e-11,3e-11,4e-11,5e-11,6e-11,7e-11,8e-11,9e-11,2e-10,3e-10,4e-10,5e-10,6e-10,7e-10,8e-10,9e-10,2e-9,3e-9,4e-9,5e-9,6e-9,7e-9,8e-9,9e-9,2e-8,3e-8,4e-8,5e-8,6e-8,7e-8,8e-8,9e-8,2e-7,3e-7,4e-7,5e-7,6e-7,7e-7,8e-7,9e-7,2e-6,3e-6,4e-6,5e-6,6e-6,7e-6,8e-6,9e-6,2e-5,3e-5,4e-5,5e-5,6e-5,7e-5,8e-5,9e-5,2e-4,3e-4,4e-4,5e-4,6e-4,7e-4,8e-4,9e-4,0.002,0.003,0.004,0.005,0.006,0.007,0.008,0.009,0.02,0.03,0.04,0.05,0.06,0.07,0.08,0.09,0.2,0.3,0.4,0.5,0.6,0.7,0.8,0.9,2,3,4,5,6,7,8,9,20,30,40,50,60,70,80,90,200,300,400,500,600,700,800,900,2000,3000,4000,5000,6000,7000,8000,9000],
  "ticks": true, "tickSize": 5, "tickColor": "black", "tickWidth": 1, "labels": false, "domain": false, "grid": false, "title": null}},
"detail": {"field": "site", "type": "nominal"}
}
}
]
}
